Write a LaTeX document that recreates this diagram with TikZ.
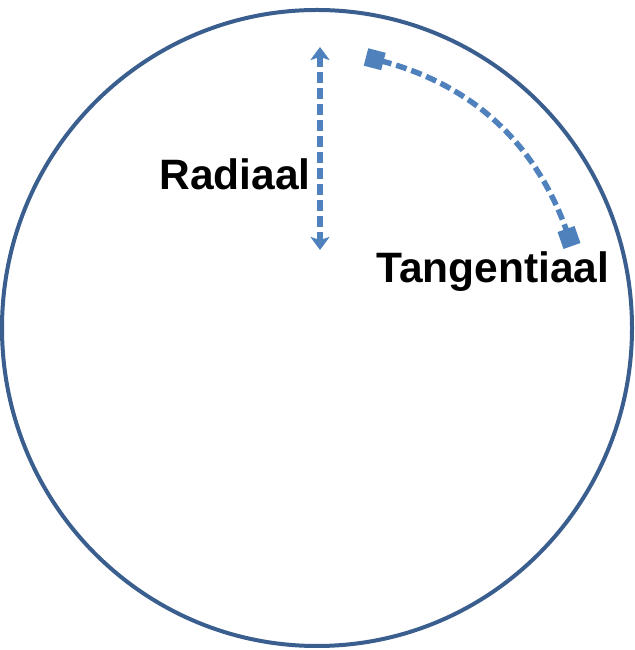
\documentclass[tikz,border=0pt]{standalone}
\usepackage{fontspec}
\setmainfont{Liberation Sans}
\usetikzlibrary{arrows.meta}
\definecolor{ringblue}{HTML}{3A5F8F}
\definecolor{arrowblue}{HTML}{4F81BD}

\begin{document}
\begin{tikzpicture}[x=1pt,y=1pt,
  lbl/.style={font=\fontsize{42.5}{42.5}\selectfont\bfseries,inner sep=0pt},
  dir/.style={arrowblue,line width=5.5pt,dash pattern=on 11pt off 5pt}]
  \useasboundingbox (0,0) rectangle (634,650);
  % Schijf
  \draw[ringblue,line width=4pt] (317,322) ellipse [x radius=315, y radius=318];

  % Radiale richting
  \coordinate (rTop) at (320,603);
  \coordinate (rBot) at (320,400);
  \draw[dir,{Stealth[length=13pt,width=19pt,inset=3pt]}-{Stealth[length=13pt,width=19pt,inset=3pt]}] (rTop) -- (rBot);
  \node[lbl,anchor=base east] (radiaal) at (311,460) {Radiaal};

  % Tangentiale richting
  \coordinate (tA) at (366,593);
  \coordinate (tB) at (572,404);
  \draw[dir,{Square[length=18pt,width=18pt]}-{Square[length=18pt,width=18pt]}] (tA) to[bend left=28] (tB);
  \node[lbl,anchor=base west] (tangentiaal) at (376,367) {Tangentiaal};
\end{tikzpicture}
\end{document}
